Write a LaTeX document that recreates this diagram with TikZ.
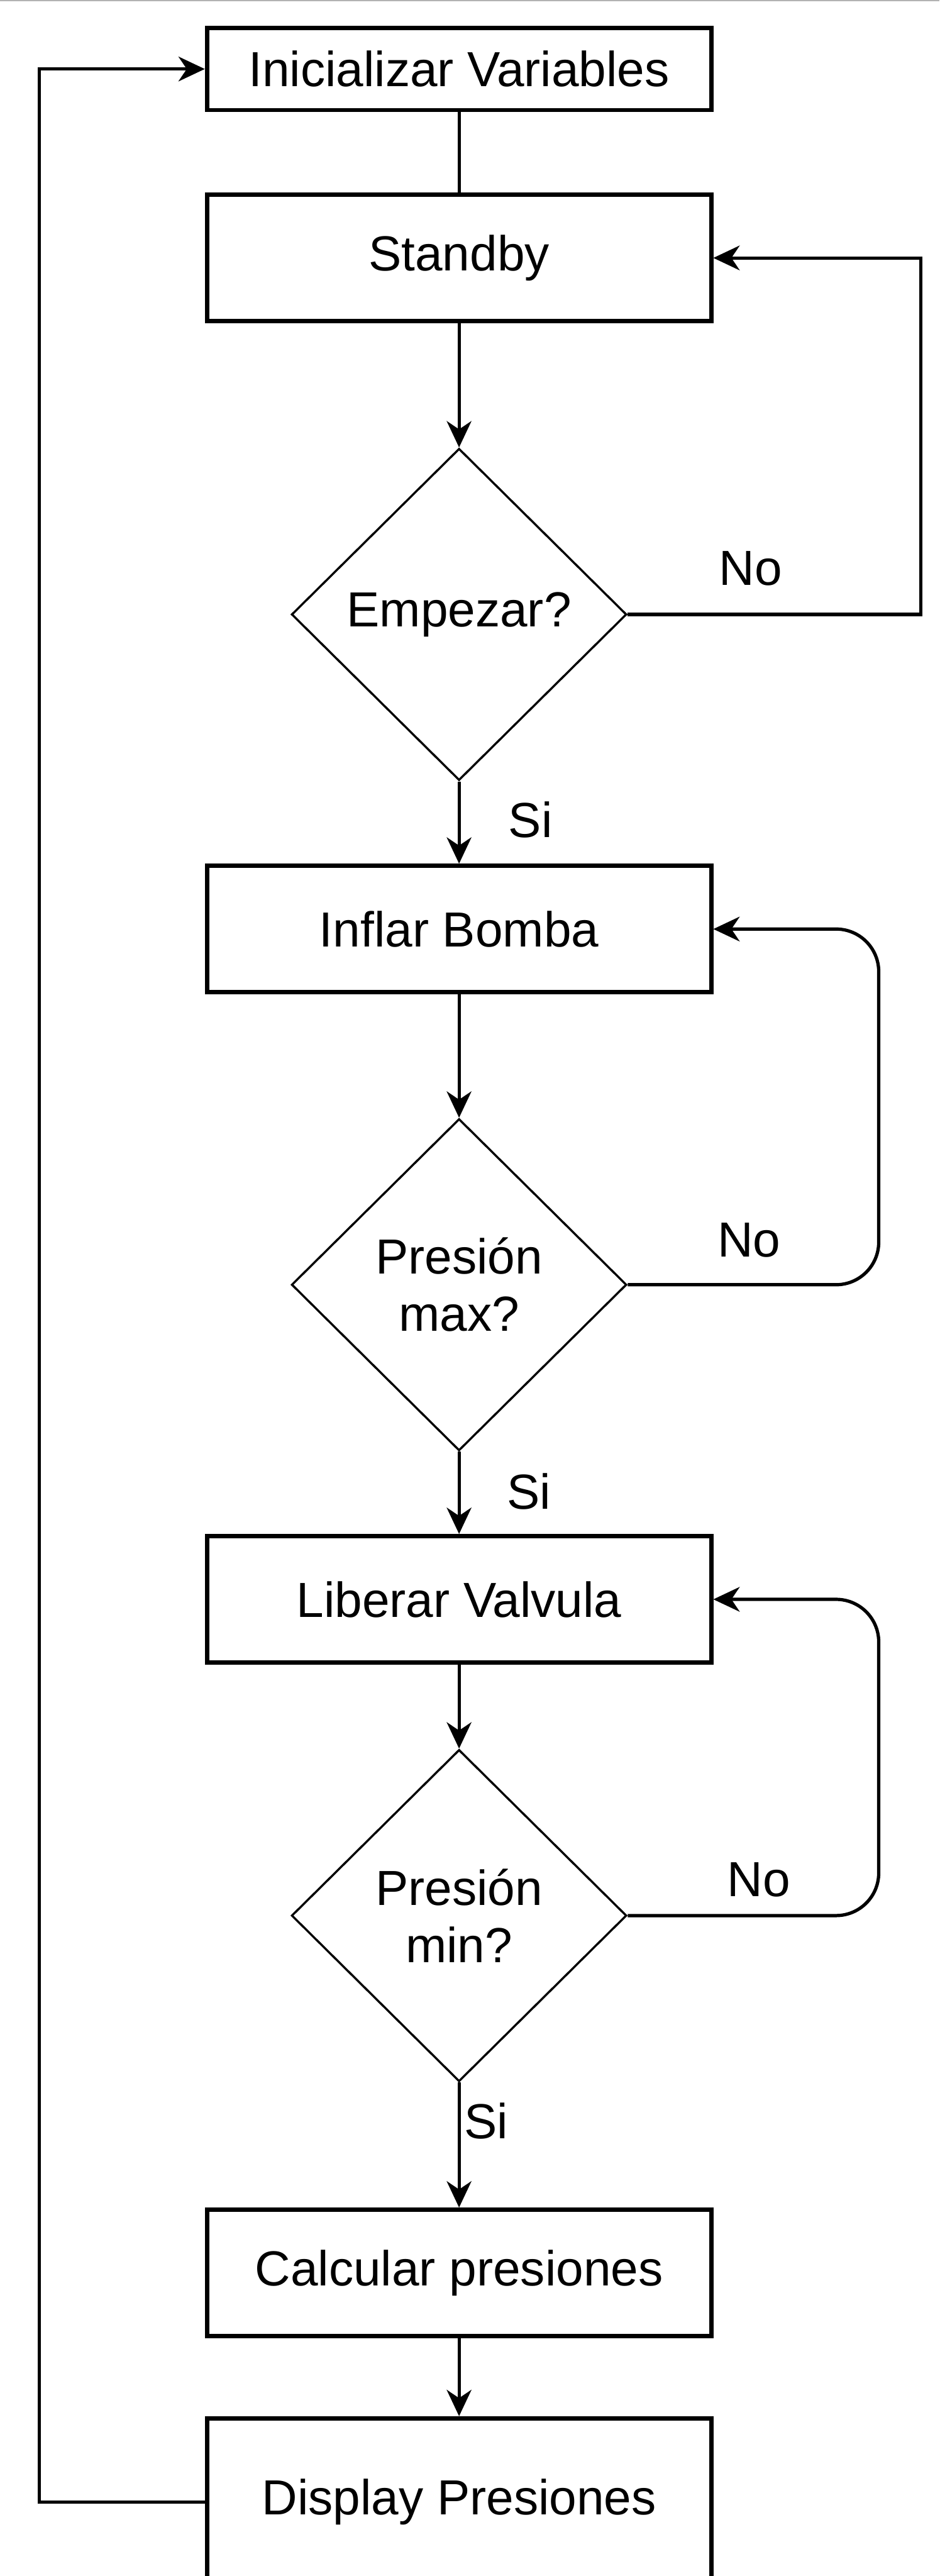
\documentclass[tikz,border=0pt]{standalone}
\usepackage{fontspec}
\setmainfont{Liberation Sans}
\usetikzlibrary{arrows.meta,shapes.geometric,calc}
\begin{document}
\begin{tikzpicture}[x=1pt,y=-1pt,
  txt/.style={font=\fontsize{30pt}{35pt}\selectfont},
  proc/.style={txt, draw, line width=2.6pt, minimum width=307pt, minimum height=77pt, inner sep=0pt, align=center},
  dec/.style={txt, diamond, draw, line width=1.3pt, minimum width=204pt, minimum height=202pt, inner sep=0pt, align=center},
  conn/.style={line width=2pt, -{Stealth[length=16pt,width=15pt,inset=5pt]}},
  plain/.style={line width=2pt},
  lbl/.style={txt, inner sep=0pt}]
\useasboundingbox (0,0) rectangle (572,1568);
\draw[gray!60, line width=0.6pt] (0,0.4) -- (572,0.4);

\node[proc, minimum height=50pt] (ini) at (279.5,42) {Inicializar Variables};
\node[proc] (stb) at (279.5,157) {Standby};
\node[dec] (emp) at (279.5,374) {Empezar?};
\node[proc] (inf) at (279.5,565.5) {Inflar Bomba};
\node[dec] (max) at (279.5,782) {Presión\\max?};
\node[proc] (lib) at (279.5,973.5) {Liberar Valvula};
\node[dec] (min) at (279.5,1166) {Presión\\min?};
\node[proc] (cal) at (279.5,1383.5) {Calcular presiones};
\node[proc, minimum height=102pt] (dsp) at (279.5,1523) {Display Presiones};

\node[lbl] (no1) at (457,346) {No};
\node[lbl] (no2) at (456,755) {No};
\node[lbl] (no3) at (462,1144) {No};
\node[lbl] (si1) at (323,499) {Si};
\node[lbl] (si2) at (322,908) {Si};
\node[lbl] (si3) at (296,1291) {Si};

\coordinate (r1) at (560.5,374);
\coordinate (r2) at (535,782);
\coordinate (r3) at (535,1166);
\coordinate (l1) at (24,1523);

\draw[plain] (ini) -- (stb);
\draw[conn] (stb) -- (emp);
\draw[conn] (emp) -- (inf);
\draw[conn] (inf) -- (max);
\draw[conn] (max) -- (lib);
\draw[conn] (lib) -- (min);
\draw[conn] (min) -- (cal);
\draw[conn] (cal) -- (dsp);

\draw[conn] (emp.east) -- (r1) |- (stb.east);
\draw[conn, rounded corners=26pt] (max.east) -- (r2) |- (inf.east);
\draw[conn, rounded corners=26pt] (min.east) -- (r3) |- (lib.east);
\draw[conn] (dsp.west) -- (l1) |- (ini.west);
\end{tikzpicture}
\end{document}
